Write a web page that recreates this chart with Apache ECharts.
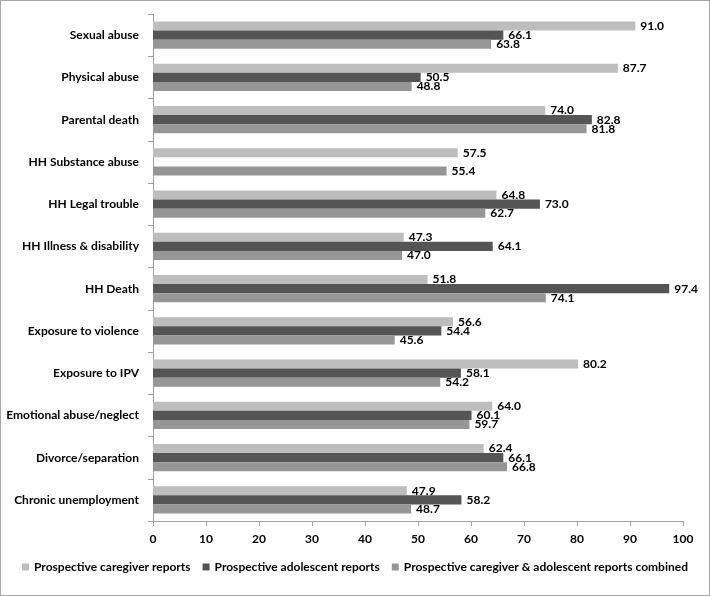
<!DOCTYPE html>
<html><head><meta charset="utf-8">
<script src="https://cdn.jsdelivr.net/npm/echarts@6/dist/echarts.min.js"></script>
<style>html,body{margin:0;padding:0;background:#fff}#c{width:710px;height:596px;box-sizing:border-box;border:1px solid #a6a6a6}</style>
</head><body><div id="c"></div>
<script>
const categories = ["Sexual abuse","Physical abuse","Parental death","HH Substance abuse","HH Legal trouble","HH Illness & disability","HH Death","Exposure to violence","Exposure to IPV","Emotional abuse/neglect","Divorce/separation","Chronic unemployment"];
const caregiver = [91.0,87.7,74.0,57.5,64.8,47.3,51.8,56.6,80.2,64.0,62.4,47.9];
const adolescent = [66.1,50.5,82.8,null,73.0,64.1,97.4,54.4,58.1,60.1,66.1,58.2];
const combined = [63.8,48.8,81.8,55.4,62.7,47.0,74.1,45.6,54.2,59.7,66.8,48.7];
const seriesNames = ["Prospective caregiver reports","Prospective adolescent reports","Prospective caregiver & adolescent reports combined"];
const colors = ["#bdbdbd","#555555","#969696"];
const FONT = "Lato, 'Liberation Sans', sans-serif";
const chart = echarts.init(document.getElementById('c'), null, {renderer:'canvas'});
const label = {show:true, position:'right', distance:5, color:'#000', fontWeight:'bold', fontSize:12, fontFamily:FONT, formatter:p=>p.value==null?'':p.value.toFixed(1)};
const mk = (name, data, i) => ({name, type:'bar', data, itemStyle:{color:colors[i]}, barGap:'0%', barCategoryGap:'36%', label});
chart.setOption({
  animation:false,
  textStyle:{fontFamily:FONT},
  grid:{left:152, right:26, top:13, bottom:74, outerBoundsMode:'none', containLabel:false},
  legend:{top:555, left:'center', itemWidth:7, itemHeight:7, itemGap:12, icon:'rect',
    textStyle:{fontSize:12, fontWeight:'bold', color:'#000', fontFamily:FONT},
    data:seriesNames},
  xAxis:{type:'value', min:0, max:100, interval:10,
    axisLine:{show:true, lineStyle:{color:'#a0a0a0'}},
    axisTick:{show:true, length:5, lineStyle:{color:'#a0a0a0'}},
    splitLine:{show:false},
    axisLabel:{color:'#000', fontWeight:'bold', fontSize:12, margin:12, fontFamily:FONT}},
  yAxis:{type:'category', data:categories, inverse:true,
    axisLine:{show:true, lineStyle:{color:'#a0a0a0'}},
    axisTick:{show:true, length:5, alignWithLabel:false, lineStyle:{color:'#a0a0a0'}},
    axisLabel:{color:'#000', fontWeight:'bold', fontSize:12, margin:14, fontFamily:FONT}},
  series:[mk(seriesNames[0],caregiver,0), mk(seriesNames[1],adolescent,1), mk(seriesNames[2],combined,2)]
});
</script></body></html>
